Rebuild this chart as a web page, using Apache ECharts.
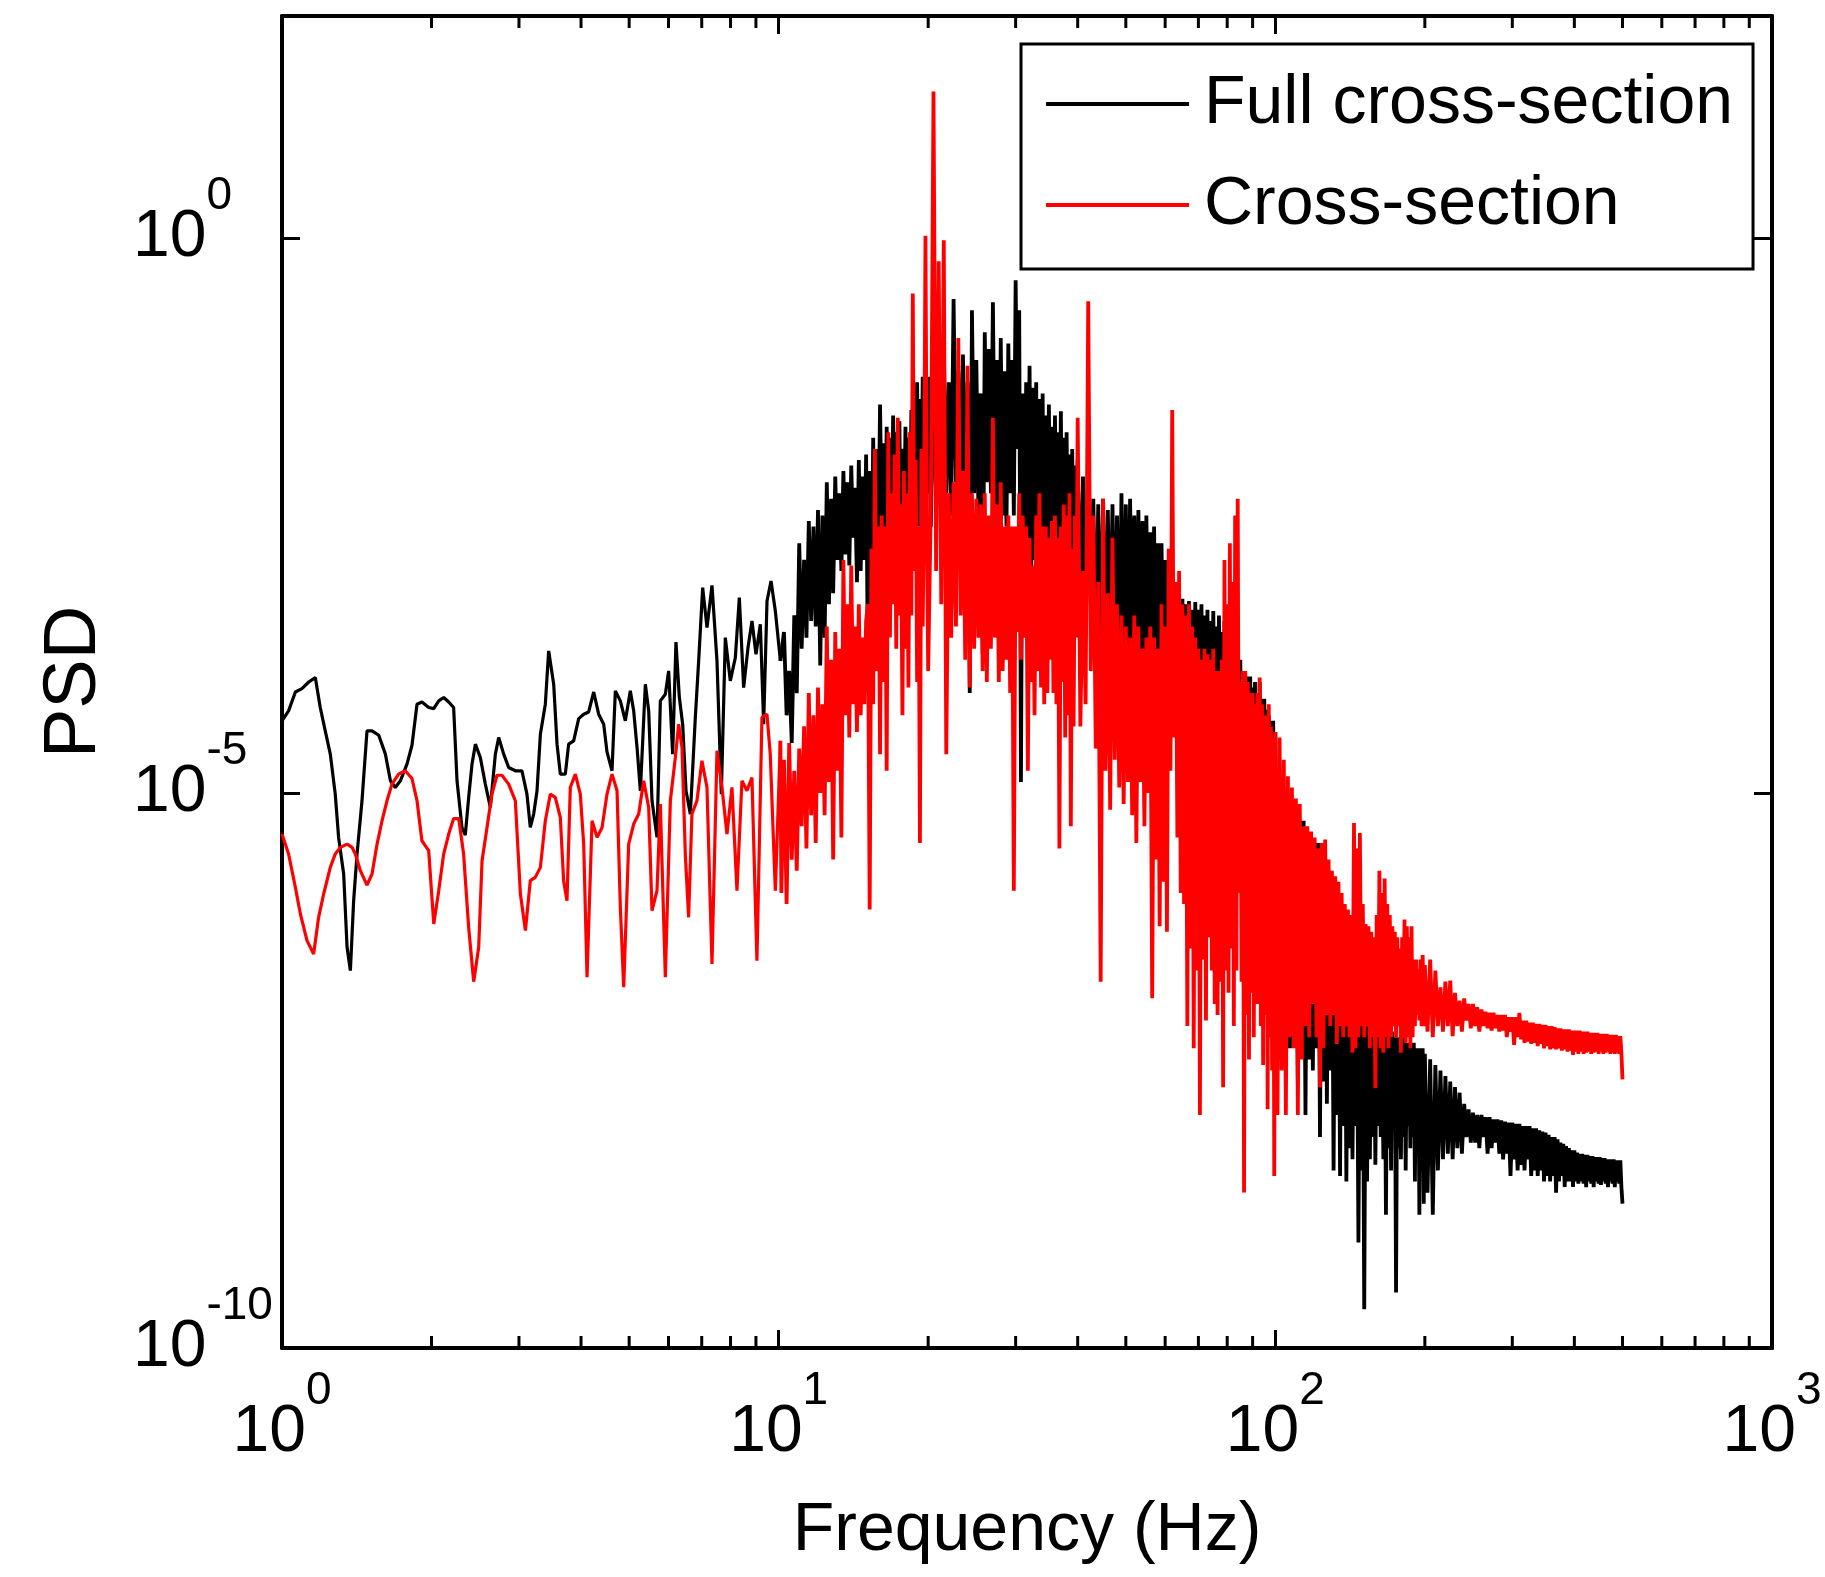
<!DOCTYPE html>
<html>
<head>
<meta charset="utf-8">
<script src="https://cdn.jsdelivr.net/npm/echarts@6/dist/echarts.min.js"></script>
<style>html,body{margin:0;padding:0;background:#fff}#chart{width:1825px;height:1577px}</style>
</head>
<body>
<div id="chart"></div>
<script>
// ---------------- data ----------------
// PSD values are stored as log10(PSD); frequencies in Hz.
const seriesNames = ['Full cross-section', 'Cross-section'];
const xTickValues = [1, 10, 100, 1000];
const yTickExponents = [-10, -5, 0];
const minorTickFreqs = [2,3,4,5,6,7,8,9,20,30,40,50,60,70,80,90,200,300,400,500,600,700,800,900];

// 1-10 Hz, black curve
const fullFreqLow = [1.000,1.031,1.064,1.097,1.132,1.167,1.194,1.222,1.251,1.280,1.300,1.331,1.352,1.373,1.394,1.416,1.449,1.483,1.518,1.566,1.615,1.653,1.691,1.731,1.785,1.827,1.870,1.913,1.974,2.021,2.068,2.116,2.166,2.216,2.251,2.303,2.339,2.376,2.413,2.451,2.508,2.567,2.627,2.689,2.731,2.795,2.860,2.950,3.042,3.113,3.162,3.212,3.262,3.313,3.390,3.443,3.524,3.579,3.634,3.719,3.777,3.866,3.957,4.050,4.144,4.242,4.341,4.443,4.512,4.618,4.690,4.800,4.912,5.027,5.106,5.186,5.267,5.390,5.474,5.559,5.689,5.778,5.913,6.005,6.117,6.212,6.310,6.408,6.508,6.640,6.795,6.901,7.031,7.173,7.341,7.513,7.666,7.809,7.992,8.180,8.333,8.502,8.675,8.837,9.002,9.185,9.328,9.474,9.652,9.847,10.08];
const fullLogPsdLow = [-4.35,-4.26,-4.09,-4.06,-4.00,-3.96,-4.23,-4.44,-4.65,-5.01,-5.40,-5.73,-6.39,-6.60,-5.97,-5.55,-5.07,-4.44,-4.44,-4.48,-4.65,-4.89,-4.95,-4.89,-4.74,-4.57,-4.20,-4.18,-4.23,-4.24,-4.17,-4.14,-4.18,-4.23,-4.89,-5.31,-5.38,-5.04,-4.74,-4.56,-4.68,-4.92,-5.13,-4.65,-4.50,-4.65,-4.77,-4.80,-4.80,-5.01,-5.31,-5.19,-4.98,-4.47,-4.20,-3.72,-4.02,-4.56,-4.83,-4.83,-4.56,-4.53,-4.33,-4.29,-4.27,-4.09,-4.29,-4.38,-4.63,-4.80,-4.08,-4.17,-4.35,-4.08,-4.26,-4.59,-4.98,-4.02,-4.26,-5.07,-5.40,-4.17,-4.11,-3.90,-4.65,-3.64,-4.14,-4.38,-4.98,-5.19,-4.32,-3.81,-3.15,-3.51,-3.13,-3.81,-5.01,-3.60,-3.99,-3.78,-3.24,-4.05,-3.69,-3.45,-3.75,-3.48,-4.38,-3.27,-3.09,-3.36,-3.81];

// 1-10 Hz, red curve
const crossFreqLow = [1.000,1.031,1.064,1.089,1.123,1.158,1.185,1.213,1.251,1.280,1.311,1.352,1.384,1.405,1.438,1.483,1.518,1.554,1.590,1.627,1.665,1.717,1.771,1.827,1.870,1.913,1.974,2.021,2.068,2.116,2.166,2.216,2.269,2.321,2.376,2.432,2.489,2.528,2.587,2.647,2.709,2.772,2.860,2.950,3.020,3.091,3.162,3.235,3.313,3.390,3.469,3.550,3.634,3.690,3.748,3.806,3.896,3.987,4.050,4.113,4.210,4.309,4.410,4.512,4.618,4.727,4.800,4.875,4.989,5.106,5.226,5.349,5.474,5.559,5.689,5.778,5.913,6.052,6.194,6.290,6.388,6.487,6.587,6.689,6.846,7.006,7.173,7.341,7.513,7.689,7.869,8.053,8.242,8.435,8.633,8.835,9.042,9.254,9.471,9.618,9.847,10.08];
const crossLogPsdLow = [-5.37,-5.55,-5.85,-6.09,-6.33,-6.45,-6.12,-5.91,-5.67,-5.55,-5.49,-5.46,-5.49,-5.55,-5.70,-5.83,-5.73,-5.46,-5.25,-5.07,-4.92,-4.83,-4.80,-4.87,-5.07,-5.43,-5.52,-6.18,-5.88,-5.55,-5.37,-5.23,-5.23,-5.55,-6.21,-6.70,-6.39,-5.61,-5.31,-5.01,-4.84,-4.84,-4.92,-5.07,-5.91,-6.24,-5.79,-5.76,-5.67,-5.25,-5.01,-5.04,-5.22,-5.79,-5.97,-4.95,-4.83,-5.01,-5.46,-6.66,-5.25,-5.40,-5.31,-5.01,-4.83,-4.98,-6.03,-6.75,-5.46,-5.28,-5.19,-4.89,-5.13,-6.06,-5.88,-5.10,-6.66,-5.07,-4.68,-4.38,-4.59,-5.55,-6.12,-5.19,-5.07,-4.71,-4.95,-6.54,-4.62,-4.95,-5.37,-4.95,-5.88,-4.89,-4.98,-4.86,-6.51,-4.32,-4.29,-4.65,-5.88,-4.53];

// 10-20 Hz
const freqA = [10.125,10.25,10.375,10.5,10.625,10.75,10.875,11,11.125,11.25,11.375,11.5,11.625,11.75,11.875,12,12.125,12.25,12.375,12.5,
12.625,12.75,12.875,13,13.125,13.25,13.375,13.5,13.625,13.75,13.875,14,14.125,14.25,14.375,14.5,14.625,14.75,14.875,15,
15.125,15.25,15.375,15.5,15.625,15.75,15.875,16,16.125,16.25,16.375,16.5,16.625,16.75,16.875,17,17.125,17.25,17.375,17.5,
17.625,17.75,17.875,18,18.125,18.25,18.375,18.5,18.625,18.75,18.875,19,19.125,19.25,19.375,19.5,19.625,19.75,19.875,20];
const fullA = [-3.8,-3.55,-4.3,-3.9,-4.55,-3.4,-4.1,-2.75,-3.7,-2.9,-3.6,-2.55,-3.45,-2.6,-3.5,-2.45,-3.85,-2.5,-3.6,-2.2,
-3.3,-2.35,-3.2,-2.15,-2.9,-2.3,-3.0,-2.1,-2.85,-2.2,-2.95,-2.05,-2.7,-2.25,-3.1,-2.0,-3.0,-2.15,-2.9,-1.95,
-3.85,-2.1,-3.4,-1.8,-3.2,-1.9,-2.8,-1.5,-2.6,-1.85,-2.9,-1.7,-2.75,-1.8,-2.9,-1.6,-2.55,-1.75,-2.7,-1.65,
-2.9,-1.9,-2.8,-1.7,-3.0,-1.8,-2.7,-1.55,-2.8,-1.6,-2.5,-1.3,-2.6,-1.45,-2.5,-1.25,-2.4,-1.35,-2.3,-1.25];
const crossA = [-5.9,-4.7,-6.0,-4.55,-5.6,-4.8,-5.7,-4.6,-5.3,-4.4,-5.5,-4.1,-5.2,-4.3,-5.45,-4.05,-5.0,-4.2,-5.2,-3.5,
-4.9,-3.8,-5.6,-3.55,-4.8,-3.7,-5.4,-2.9,-4.3,-3.3,-4.5,-2.95,-4.2,-3.5,-4.45,-3.3,-4.3,-3.6,-4.2,-3.45,
-3.3,-6.05,-2.8,-4.2,-1.9,-3.9,-2.6,-4.65,-2.5,-4.0,-2.6,-4.8,-1.75,-3.6,-2.3,-3.3,-1.95,-3.7,-1.62,-3.4,
-2.4,-4.3,-2.1,-3.7,-2.3,-4.05,-1.75,-3.4,-0.5,-3.0,-2.0,-4.0,-2.6,-5.45,-1.9,-3.5,-2.4,0.02,-2.5,-3.9];

// 20-40 Hz
const freqB = [20.25,20.5,20.75,21,21.25,21.5,21.75,22,22.25,22.5,22.75,23,23.25,23.5,23.75,24,24.25,24.5,24.75,25,
25.25,25.5,25.75,26,26.25,26.5,26.75,27,27.25,27.5,27.75,28,28.25,28.5,28.75,29,29.25,29.5,29.75,30,
30.25,30.5,30.75,31,31.25,31.5,31.75,32,32.25,32.5,32.75,33,33.25,33.5,33.75,34,34.25,34.5,34.75,35,
35.25,35.5,35.75,36,36.25,36.5,36.75,37,37.25,37.5,37.75,38,38.25,38.5,38.75,39,39.25,39.5,39.75,40];
const fullB = [-2.6,-1.1,-2.4,-1.2,-2.7,-1.0,-2.3,-1.3,-2.5,-0.55,-2.2,-1.2,-2.1,-1.05,-2.6,-1.3,-4.1,-0.65,-2.3,-1.1,
-2.5,-1.4,-3.75,-0.85,-2.2,-1.0,-2.3,-0.58,-2.4,-1.1,-3.2,-0.9,-2.5,-1.2,-2.6,-0.95,-2.3,-1.1,-2.5,-0.38,
-1.9,-0.65,-4.9,-1.4,-3.2,-1.3,-2.8,-1.15,-3.0,-1.35,-2.9,-1.3,-3.1,-1.45,-2.9,-1.4,-3.0,-1.6,-2.9,-1.5,
-3.0,-1.7,-2.8,-1.6,-2.9,-1.75,-3.1,-1.56,-3.2,-1.8,-3.0,-1.75,-3.2,-1.95,-3.1,-1.9,-3.3,-2.05,-3.2,-2.0];
const crossB = [-2.4,1.32,-3.0,-0.21,-3.3,-0.02,-4.65,-2.3,-3.6,-2.2,-3.5,-0.9,-3.4,-2.1,-3.8,-1.15,-4.05,-2.3,-3.7,-2.35,
-3.6,-2.4,-3.9,-2.3,-4.0,-2.5,-3.7,-1.62,-3.6,-2.4,-4.0,-2.2,-3.9,-2.6,-3.8,-2.5,-4.1,-2.6,-5.88,-2.6,
-3.55,-2.3,-3.8,-2.5,-3.6,-2.6,-4.8,-2.7,-4.0,-2.95,-4.3,-2.5,-3.9,-2.3,-4.05,-2.6,-4.2,-2.6,-4.1,-2.7,
-3.8,-2.55,-4.1,-2.5,-4.2,-2.7,-5.5,-2.6,-4.0,-2.4,-4.5,-2.5,-4.3,-2.3,-5.3,-2.8,-4.4,-2.5,-3.6,-1.62];

// 40-100 Hz
const freqC = [40.5,41,41.5,42,42.5,43,43.5,44,44.5,45,45.5,46,46.5,47,47.5,48,48.5,49,49.5,50,
50.5,51,51.5,52,52.5,53,53.5,54,54.5,55,55.5,56,56.5,57,57.5,58,58.5,59,59.5,60,
60.5,61,61.5,62,62.5,63,63.5,64,64.5,65,65.5,66,66.5,67,67.5,68,68.5,69,69.5,70,
70.5,71,71.5,72,72.5,73,73.5,74,74.5,75,75.5,76,76.5,77,77.5,78,78.5,79,79.5,80,
80.5,81,81.5,82,82.5,83,83.5,84,84.5,85,85.5,86,86.5,87,87.5,88,88.5,89,89.5,90,
90.5,91,91.5,92,92.5,93,93.5,94,94.5,95,95.5,96,96.5,97,97.5,98,98.5,99,99.5,100];
const fullC = [-3.3,-2.15,-3.5,-2.3,-3.3,-2.35,-3.7,-2.4,-3.8,-2.35,-3.9,-2.45,-3.8,-2.4,-3.7,-2.5,-3.9,-2.3,-3.85,-2.4,
-3.95,-2.35,-3.8,-2.5,-3.85,-2.45,-3.9,-2.55,-4.0,-2.5,-3.95,-2.65,-4.05,-2.6,-3.9,-2.75,-4.1,-2.75,-4.0,-2.9,
-4.2,-2.95,-4.1,-3.05,-4.3,-3.1,-4.2,-3.2,-4.25,-3.25,-4.35,-3.3,-4.4,-3.27,-4.3,-3.35,-4.35,-3.28,-4.5,-3.35,
-4.45,-3.3,-4.6,-3.4,-4.8,-3.35,-4.55,-3.45,-4.6,-3.36,-4.55,-3.5,-4.6,-3.4,-4.65,-3.55,-4.7,-3.45,-4.7,-3.6,
-4.75,-3.6,-4.7,-3.7,-4.75,-3.75,-4.8,-3.8,-4.8,-3.8,-4.85,-3.9,-4.85,-3.95,-4.9,-3.95,-4.85,-3.95,-5.0,-4.05,
-5.05,-4.0,-5.2,-4.1,-5.1,-4.0,-5.25,-4.15,-5.2,-4.15,-5.25,-4.25,-5.3,-4.3,-5.25,-4.35,-5.3,-4.35,-5.3,-4.45];
const crossC = [-4.4,-3.0,-4.2,-0.57,-3.9,-2.5,-4.6,-3.1,-6.7,-2.35,-4.8,-3.2,-5.15,-2.7,-4.7,-3.3,-4.95,-3.4,-5.1,-3.5,
-4.9,-3.6,-5.2,-3.4,-5.45,-3.5,-4.9,-3.7,-5.3,-3.6,-5.0,-3.5,-6.85,-3.6,-5.6,-3.7,-6.2,-3.3,-5.8,-3.5,
-6.25,-2.8,-4.8,-1.55,-4.5,-3.1,-5.4,-3.0,-5.9,-3.3,-6.0,-3.4,-7.1,-3.3,-6.4,-3.5,-7.3,-3.6,-6.6,-3.7,
-7.9,-3.8,-6.5,-3.7,-7.05,-3.75,-6.3,-3.8,-6.6,-3.7,-6.9,-3.9,-7.0,-3.9,-6.7,-3.8,-7.65,-2.9,-6.6,-3.3,
-6.8,-2.75,-6.4,-3.1,-7.1,-2.5,-6.6,-2.35,-5.9,-4.0,-6.7,-3.9,-8.6,-3.9,-7.0,-4.0,-7.4,-4.1,-6.8,-4.1,
-7.2,-4.2,-6.9,-4.1,-6.9,-3.96,-7.1,-4.2,-7.45,-4.3,-7.0,-4.3,-7.85,-4.2,-7.2,-4.4,-7.5,-4.5,-8.45,-4.45];

// 100-200 Hz
const freqD = [101,102,103,104,105,106,107,108,109,110,111,112,113,114,115,116,117,118,119,120,
121,122,123,124,125,126,127,128,129,130,131,132,133,134,135,136,137,138,139,140,
141,142,143,144,145,146,147,148,149,150,151,152,153,154,155,156,157,158,159,160,
161,162,163,164,165,166,167,168,169,170,171,172,173,174,175,176,177,178,179,180,
181,182,183,184,185,186,187,188,189,190,191,192,193,194,195,196,197,198,199,200];
const fullD = [-6.6,-5.1,-6.8,-5.15,-6.5,-5.05,-7.3,-5.2,-7.0,-5.2,-7.6,-5.25,-7.2,-5.25,-7.9,-5.35,-7.4,-5.35,-7.5,-5.45,
-7.3,-5.45,-8.1,-5.6,-7.6,-5.6,-7.8,-5.8,-7.5,-5.8,-8.4,-6.0,-7.9,-6.0,-8.45,-6.15,-8.0,-6.15,-8.5,-6.6,
-8.2,-6.6,-8.3,-6.8,-8.0,-6.8,-9.05,-6.9,-8.4,-6.9,-9.65,-7.0,-8.5,-7.0,-8.3,-7.0,-8.1,-7.05,-8.35,-7.05,
-8.0,-7.1,-8.1,-7.1,-8.3,-7.1,-8.8,-7.15,-8.2,-7.15,-8.4,-7.15,-8.0,-7.2,-9.5,-7.2,-8.2,-7.2,-8.3,-7.2,
-8.1,-7.2,-8.4,-7.25,-8.0,-7.25,-8.2,-7.25,-8.1,-7.25,-8.5,-7.3,-8.2,-7.3,-8.8,-7.3,-8.4,-7.3,-8.7,-7.35];
const crossD = [-7.9,-4.5,-7.5,-4.7,-7.9,-4.85,-7.2,-4.95,-7.3,-5.05,-7.9,-5.1,-7.4,-5.3,-7.1,-5.3,-7.2,-5.35,-6.9,-5.4,
-7.2,-5.5,-7.65,-5.45,-7.3,-5.42,-7.0,-5.6,-7.1,-5.7,-7.0,-5.75,-7.26,-5.8,-7.1,-5.9,-7.2,-6.0,-7.1,-6.05,
-7.2,-6.1,-7.34,-5.27,-7.3,-5.5,-7.2,-5.36,-7.1,-6.0,-7.2,-6.18,-7.1,-6.2,-7.3,-6.25,-7.2,-6.3,-7.66,-6.1,
-7.2,-5.7,-7.3,-5.9,-7.34,-5.77,-7.2,-6.0,-7.3,-6.1,-7.2,-6.2,-7.1,-6.25,-7.2,-6.3,-7.1,-6.4,-7.34,-6.3,
-7.2,-6.14,-7.25,-6.2,-7.2,-6.3,-7.3,-6.2,-7.2,-6.5,-7.1,-6.5,-7.0,-6.59,-7.05,-6.5,-7.1,-6.46,-7.1,-6.55];

// 200-500 Hz
const freqE = [202.5,205,207.5,210,212.5,215,217.5,220,222.5,225,227.5,230,232.5,235,237.5,240,242.5,245,247.5,250,
252.5,255,257.5,260,262.5,265,267.5,270,272.5,275,277.5,280,282.5,285,287.5,290,292.5,295,297.5,300,
302.5,305,307.5,310,312.5,315,317.5,320,322.5,325,327.5,330,332.5,335,337.5,340,342.5,345,347.5,350,
352.5,355,357.5,360,362.5,365,367.5,370,372.5,375,377.5,380,382.5,385,387.5,390,392.5,395,397.5,400,
402.5,405,407.5,410,412.5,415,417.5,420,422.5,425,427.5,430,432.5,435,437.5,440,442.5,445,447.5,450,
452.5,455,457.5,460,462.5,465,467.5,470,472.5,475,477.5,480,482.5,485,487.5,490,492.5,495,497.5,500];
const fullE = [-8.6,-7.4,-8.8,-7.45,-8.4,-7.5,-8.3,-7.55,-8.25,-7.6,-8.3,-7.65,-8.2,-7.7,-8.25,-7.8,-8.1,-7.85,-8.15,-7.88,
-8.15,-7.9,-8.2,-7.9,-8.1,-7.92,-8.25,-7.92,-8.2,-7.94,-8.15,-7.94,-8.25,-7.95,-8.3,-7.96,-8.25,-7.97,-8.45,-7.97,
-8.3,-7.98,-8.4,-7.98,-8.35,-8.0,-8.4,-8.0,-8.3,-8.0,-8.45,-8.02,-8.4,-8.02,-8.45,-8.04,-8.4,-8.05,-8.5,-8.06,
-8.45,-8.08,-8.5,-8.1,-8.45,-8.1,-8.6,-8.12,-8.5,-8.15,-8.45,-8.16,-8.55,-8.18,-8.5,-8.2,-8.5,-8.22,-8.55,-8.22,
-8.5,-8.24,-8.52,-8.25,-8.5,-8.25,-8.52,-8.26,-8.55,-8.26,-8.5,-8.27,-8.52,-8.27,-8.55,-8.28,-8.5,-8.28,-8.52,-8.28,
-8.53,-8.29,-8.5,-8.29,-8.52,-8.3,-8.55,-8.3,-8.5,-8.3,-8.52,-8.3,-8.55,-8.31,-8.5,-8.31,-8.52,-8.31,-8.55,-8.7];
const crossE = [-7.15,-6.5,-7.2,-6.6,-7.1,-6.75,-7.15,-6.7,-7.1,-6.69,-7.19,-6.8,-7.1,-6.87,-7.15,-6.85,-7.05,-6.9,-7.12,-6.9,
-7.1,-6.93,-7.15,-6.95,-7.1,-6.97,-7.12,-6.98,-7.14,-6.98,-7.12,-7.0,-7.15,-7.0,-7.14,-7.0,-7.2,-7.02,-7.15,-7.02,
-7.27,-7.02,-7.2,-6.98,-7.22,-7.05,-7.25,-7.05,-7.24,-7.07,-7.26,-7.07,-7.25,-7.08,-7.28,-7.08,-7.26,-7.09,-7.3,-7.09,
-7.28,-7.1,-7.31,-7.1,-7.3,-7.11,-7.31,-7.12,-7.3,-7.12,-7.32,-7.13,-7.31,-7.13,-7.33,-7.13,-7.32,-7.14,-7.36,-7.14,
-7.33,-7.14,-7.35,-7.14,-7.33,-7.15,-7.35,-7.15,-7.34,-7.15,-7.33,-7.16,-7.35,-7.16,-7.34,-7.16,-7.33,-7.16,-7.35,-7.17,
-7.33,-7.17,-7.35,-7.17,-7.34,-7.17,-7.33,-7.18,-7.35,-7.18,-7.34,-7.18,-7.35,-7.18,-7.34,-7.19,-7.35,-7.19,-7.34,-7.58];

// ---------------- build ----------------
const Y_MIN = -10, Y_MAX = 2;
function pairs(fs, vs) { const n = Math.min(fs.length, vs.length); const out = []; for (let i = 0; i < n; i++) out.push([fs[i], vs[i]]); return out; }
const fullLow = pairs(fullFreqLow, fullLogPsdLow);
const crossLow = pairs(crossFreqLow, crossLogPsdLow);
// the dense part continues from the last low-frequency point
const fullHigh = [fullLow[fullLow.length - 1]].concat(
  pairs(freqA, fullA), pairs(freqB, fullB), pairs(freqC, fullC), pairs(freqD, fullD), pairs(freqE, fullE));
const crossHigh = [crossLow[crossLow.length - 1]].concat(
  pairs(freqA, crossA), pairs(freqB, crossB), pairs(freqC, crossC), pairs(freqD, crossD), pairs(freqE, crossE));

const FONT = "'Liberation Sans', Arial, Helvetica, sans-serif";
const rich = {
  b: { fontSize: 66, fontFamily: FONT, color: '#000', padding: [32, 0, 32, 0] },
  s: { fontSize: 46, fontFamily: FONT, color: '#000', padding: [0, 0, 84, 0] }
};
function powLabel(e) { return '{b|10}{s|' + e + '}'; }
const axisLine = { show: true, onZero: false, lineStyle: { color: '#000', width: 4 } };
const axisTick = { show: true, inside: true, length: 18, lineStyle: { color: '#000', width: 3 } };

function lineSeries(name, data, color, width, z) {
  return { name: name, type: 'line', xAxisIndex: 0, yAxisIndex: 0, data: data,
    symbol: 'none', showSymbol: false, sampling: null, z: z,
    lineStyle: { color: color, width: width, join: 'bevel' }, itemStyle: { color: color } };
}

const chart = echarts.init(document.getElementById('chart'), null, { renderer: 'canvas' });
chart.setOption({
  animation: false,
  backgroundColor: '#fff',
  grid: { left: 282, right: 53, top: 16, bottom: 229, containLabel: false, outerBoundsMode: 'none' },
  legend: {
    data: seriesNames, orient: 'vertical', left: 1021, top: 44,
    padding: [26, 20, 30, 25], itemWidth: 143, itemHeight: 4, itemGap: 33, icon: 'rect',
    selectedMode: false, backgroundColor: '#fff', borderColor: '#000', borderWidth: 3,
    textStyle: { fontSize: 68, fontFamily: FONT, color: '#000', padding: [0, 0, 0, 10] }
  },
  xAxis: [
    { type: 'log', logBase: 10, min: xTickValues[0], max: xTickValues[xTickValues.length - 1], position: 'bottom',
      axisLine: axisLine, axisTick: axisTick, splitLine: { show: false }, minorTick: { show: false },
      axisLabel: { margin: 20, formatter: v => powLabel(Math.round(Math.log10(v))), rich: rich },
      name: 'Frequency (Hz)', nameLocation: 'middle', nameGap: 149,
      nameTextStyle: { fontSize: 68, fontFamily: FONT, color: '#000' } },
    { type: 'log', logBase: 10, min: xTickValues[0], max: xTickValues[xTickValues.length - 1], position: 'top',
      axisLine: axisLine, axisTick: axisTick, splitLine: { show: false }, axisLabel: { show: false } }
  ],
  yAxis: [
    { type: 'value', min: Y_MIN, max: Y_MAX, interval: 5, position: 'left',
      axisLine: axisLine, axisTick: axisTick, splitLine: { show: false },
      axisLabel: { align: 'left', margin: 149, rich: rich,
        formatter: v => (yTickExponents.indexOf(v) >= 0 ? powLabel(v) : '') },
      name: 'PSD', nameLocation: 'middle', nameGap: 170,
      nameTextStyle: { fontSize: 74, fontFamily: FONT, color: '#000' } },
    { type: 'value', min: Y_MIN, max: Y_MAX, interval: 5, position: 'right',
      axisLine: axisLine, axisTick: axisTick, splitLine: { show: false }, axisLabel: { show: false } }
  ],
  series: [
    lineSeries(seriesNames[0], fullLow, '#000', 3.2, 2),
    lineSeries(seriesNames[0], fullHigh, '#000', 3.8, 2),
    lineSeries(seriesNames[1], crossLow, '#ff0000', 3.2, 3),
    lineSeries(seriesNames[1], crossHigh, '#ff0000', 3.8, 3),
    { name: 'minorTicks', type: 'custom', xAxisIndex: 0, yAxisIndex: 0, silent: true, z: 5, clip: false,
      data: minorTickFreqs.map(f => [f, Y_MIN]),
      renderItem: function (params, api) {
        const b = api.coord([api.value(0), Y_MIN]);
        const t = api.coord([api.value(0), Y_MAX]);
        const st = { stroke: '#000', lineWidth: 3 };
        return { type: 'group', children: [
          { type: 'line', shape: { x1: b[0], y1: b[1], x2: b[0], y2: b[1] - 12 }, style: st },
          { type: 'line', shape: { x1: t[0], y1: t[1], x2: t[0], y2: t[1] + 12 }, style: st }
        ] };
      } }
  ]
});
</script>
</body>
</html>
